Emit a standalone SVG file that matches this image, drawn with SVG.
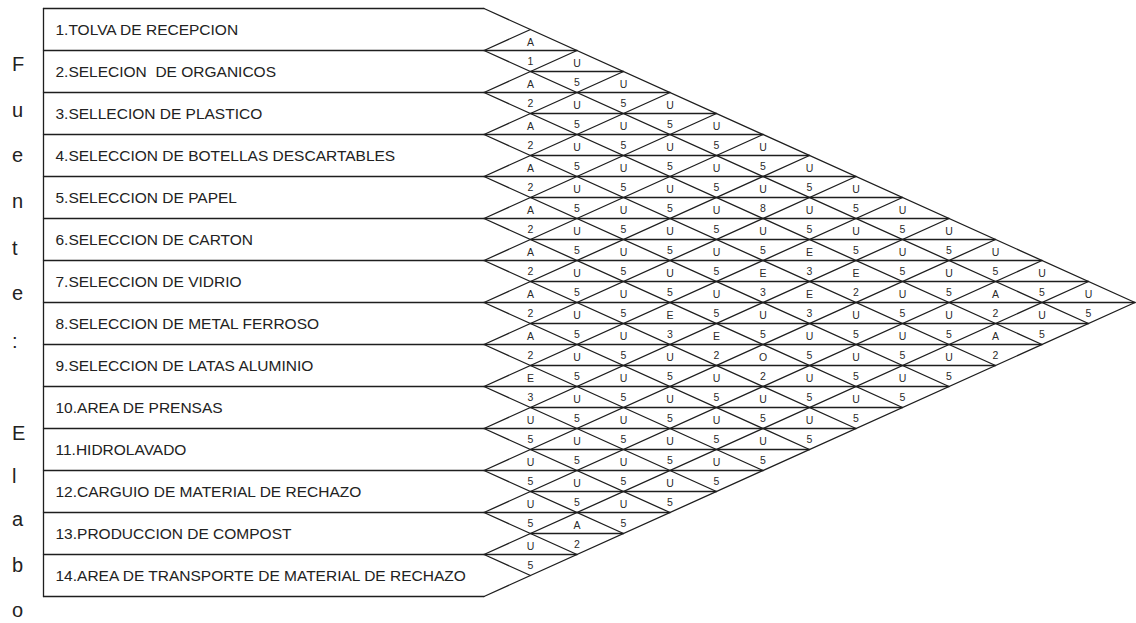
<svg xmlns="http://www.w3.org/2000/svg" width="1136" height="623" viewBox="0 0 1136 623">
<style>
.ln{stroke:#1e1e1e;stroke-width:1.3;fill:none;stroke-linecap:round}
.lbl{font-family:"Liberation Sans",Arial,sans-serif;font-size:15.5px;fill:#222}
.src{font-family:"Liberation Sans",Arial,sans-serif;font-size:20px;fill:#222}
.c text{font-family:"Liberation Sans",Arial,sans-serif;font-size:10.5px;fill:#2a2a2a;text-anchor:middle}
</style>
<rect width="1136" height="623" fill="#fff"/>
<g id="fuente">
<text class="src" x="12" y="70.7">F</text>
<text class="src" x="12" y="117">u</text>
<text class="src" x="12" y="162">e</text>
<text class="src" x="12" y="208">n</text>
<text class="src" x="12" y="254.5">t</text>
<text class="src" x="12" y="300">e</text>
<text class="src" x="12" y="348">:</text>
<text class="src" x="12" y="440">E</text>
<text class="src" x="12" y="483">l</text>
<text class="src" x="12" y="526">a</text>
<text class="src" x="12" y="572">b</text>
<text class="src" x="12" y="617">o</text>
</g>
<g id="connectors" class="ln">
<path d="M43.5 8.5V596.5"/>
<path d="M43.5 8.5H484M43.5 50.5H577M43.5 92.5H670M43.5 134.5H763M43.5 176.5H856M43.5 218.5H949M43.5 260.5H1042M43.5 302.5H1135M43.5 344.5H1042M43.5 386.5H949M43.5 428.5H856M43.5 470.5H763M43.5 512.5H670M43.5 554.5H577M43.5 596.5H484"/>
<path d="M530.5 71.5H623.5M530.5 113.5H716.5M530.5 155.5H809.5M530.5 197.5H902.5M530.5 239.5H995.5M530.5 281.5H1088.5M530.5 323.5H1088.5M530.5 365.5H995.5M530.5 407.5H902.5M530.5 449.5H809.5M530.5 491.5H716.5M530.5 533.5H623.5"/>
<path d="M484 8.5L1135 302.5M484 50.5L1088.5 323.5M484 92.5L1042 344.5M484 134.5L995.5 365.5M484 176.5L949 386.5M484 218.5L902.5 407.5M484 260.5L856 428.5M484 302.5L809.5 449.5M484 344.5L763 470.5M484 386.5L716.5 491.5M484 428.5L670 512.5M484 470.5L623.5 533.5M484 512.5L577 554.5M484 554.5L530.5 575.5"/>
<path d="M484 50.5L530.5 29.5M484 92.5L577 50.5M484 134.5L623.5 71.5M484 176.5L670 92.5M484 218.5L716.5 113.5M484 260.5L763 134.5M484 302.5L809.5 155.5M484 344.5L856 176.5M484 386.5L902.5 197.5M484 428.5L949 218.5M484 470.5L995.5 239.5M484 512.5L1042 260.5M484 554.5L1088.5 281.5M484 596.5L1135 302.5"/>
</g>
<g id="act1"><text class="lbl" x="55.5" y="35">1.TOLVA DE RECEPCION</text></g>
<g id="act2"><text class="lbl" x="55.5" y="77" xml:space="preserve">2.SELECION  DE ORGANICOS</text></g>
<g id="act3"><text class="lbl" x="55.5" y="119">3.SELLECION DE PLASTICO</text></g>
<g id="act4"><text class="lbl" x="55.5" y="161">4.SELECCION DE BOTELLAS DESCARTABLES</text></g>
<g id="act5"><text class="lbl" x="55.5" y="203">5.SELECCION DE PAPEL</text></g>
<g id="act6"><text class="lbl" x="55.5" y="245">6.SELECCION DE CARTON</text></g>
<g id="act7"><text class="lbl" x="55.5" y="287">7.SELECCION DE VIDRIO</text></g>
<g id="act8"><text class="lbl" x="55.5" y="329">8.SELECCION DE METAL FERROSO</text></g>
<g id="act9"><text class="lbl" x="55.5" y="371">9.SELECCION DE LATAS ALUMINIO</text></g>
<g id="act10"><text class="lbl" x="55.5" y="413">10.AREA DE PRENSAS</text></g>
<g id="act11"><text class="lbl" x="55.5" y="455">11.HIDROLAVADO</text></g>
<g id="act12"><text class="lbl" x="55.5" y="497">12.CARGUIO DE MATERIAL DE RECHAZO</text></g>
<g id="act13"><text class="lbl" x="55.5" y="539">13.PRODUCCION DE COMPOST</text></g>
<g id="act14"><text class="lbl" x="55.5" y="581">14.AREA DE TRANSPORTE DE MATERIAL DE RECHAZO</text></g>
<g id="relations" class="c">
<g transform="translate(0,44)"><text x="530.5" y="1.5">A</text></g>
<g transform="translate(0,65)"><text x="530.5" y="0">1</text><text x="577" y="1.5">U</text></g>
<g transform="translate(0,86)"><text x="530.5" y="1.5">A</text><text x="577" y="0">5</text><text x="623.5" y="1.5">U</text></g>
<g transform="translate(0,107)"><text x="530.5" y="0">2</text><text x="577" y="1.5">U</text><text x="623.5" y="0">5</text><text x="670" y="1.5">U</text></g>
<g transform="translate(0,128)"><text x="530.5" y="1.5">A</text><text x="577" y="0">5</text><text x="623.5" y="1.5">U</text><text x="670" y="0">5</text><text x="716.5" y="1.5">U</text></g>
<g transform="translate(0,149)"><text x="530.5" y="0">2</text><text x="577" y="1.5">U</text><text x="623.5" y="0">5</text><text x="670" y="1.5">U</text><text x="716.5" y="0">5</text><text x="763" y="1.5">U</text></g>
<g transform="translate(0,170)"><text x="530.5" y="1.5">A</text><text x="577" y="0">5</text><text x="623.5" y="1.5">U</text><text x="670" y="0">5</text><text x="716.5" y="1.5">U</text><text x="763" y="0">5</text><text x="809.5" y="1.5">U</text></g>
<g transform="translate(0,191)"><text x="530.5" y="0">2</text><text x="577" y="1.5">U</text><text x="623.5" y="0">5</text><text x="670" y="1.5">U</text><text x="716.5" y="0">5</text><text x="763" y="1.5">U</text><text x="809.5" y="0">5</text><text x="856" y="1.5">U</text></g>
<g transform="translate(0,212)"><text x="530.5" y="1.5">A</text><text x="577" y="0">5</text><text x="623.5" y="1.5">U</text><text x="670" y="0">5</text><text x="716.5" y="1.5">U</text><text x="763" y="0">8</text><text x="809.5" y="1.5">U</text><text x="856" y="0">5</text><text x="902.5" y="1.5">U</text></g>
<g transform="translate(0,233)"><text x="530.5" y="0">2</text><text x="577" y="1.5">U</text><text x="623.5" y="0">5</text><text x="670" y="1.5">U</text><text x="716.5" y="0">5</text><text x="763" y="1.5">U</text><text x="809.5" y="0">5</text><text x="856" y="1.5">U</text><text x="902.5" y="0">5</text><text x="949" y="1.5">U</text></g>
<g transform="translate(0,254)"><text x="530.5" y="1.5">A</text><text x="577" y="0">5</text><text x="623.5" y="1.5">U</text><text x="670" y="0">5</text><text x="716.5" y="1.5">U</text><text x="763" y="0">5</text><text x="809.5" y="1.5">E</text><text x="856" y="0">5</text><text x="902.5" y="1.5">U</text><text x="949" y="0">5</text><text x="995.5" y="1.5">U</text></g>
<g transform="translate(0,275)"><text x="530.5" y="0">2</text><text x="577" y="1.5">U</text><text x="623.5" y="0">5</text><text x="670" y="1.5">U</text><text x="716.5" y="0">5</text><text x="763" y="1.5">E</text><text x="809.5" y="0">3</text><text x="856" y="1.5">E</text><text x="902.5" y="0">5</text><text x="949" y="1.5">U</text><text x="995.5" y="0">5</text><text x="1042" y="1.5">U</text></g>
<g transform="translate(0,296)"><text x="530.5" y="1.5">A</text><text x="577" y="0">5</text><text x="623.5" y="1.5">U</text><text x="670" y="0">5</text><text x="716.5" y="1.5">U</text><text x="763" y="0">3</text><text x="809.5" y="1.5">E</text><text x="856" y="0">2</text><text x="902.5" y="1.5">U</text><text x="949" y="0">5</text><text x="995.5" y="1.5">A</text><text x="1042" y="0">5</text><text x="1088.5" y="1.5">U</text></g>
<g transform="translate(0,317)"><text x="530.5" y="0">2</text><text x="577" y="1.5">U</text><text x="623.5" y="0">5</text><text x="670" y="1.5">E</text><text x="716.5" y="0">5</text><text x="763" y="1.5">U</text><text x="809.5" y="0">3</text><text x="856" y="1.5">U</text><text x="902.5" y="0">5</text><text x="949" y="1.5">U</text><text x="995.5" y="0">2</text><text x="1042" y="1.5">U</text><text x="1088.5" y="0">5</text></g>
<g transform="translate(0,338)"><text x="530.5" y="1.5">A</text><text x="577" y="0">5</text><text x="623.5" y="1.5">U</text><text x="670" y="0">3</text><text x="716.5" y="1.5">E</text><text x="763" y="0">5</text><text x="809.5" y="1.5">U</text><text x="856" y="0">5</text><text x="902.5" y="1.5">U</text><text x="949" y="0">5</text><text x="995.5" y="1.5">A</text><text x="1042" y="0">5</text></g>
<g transform="translate(0,359)"><text x="530.5" y="0">2</text><text x="577" y="1.5">U</text><text x="623.5" y="0">5</text><text x="670" y="1.5">U</text><text x="716.5" y="0">2</text><text x="763" y="1.5">O</text><text x="809.5" y="0">5</text><text x="856" y="1.5">U</text><text x="902.5" y="0">5</text><text x="949" y="1.5">U</text><text x="995.5" y="0">2</text></g>
<g transform="translate(0,380)"><text x="530.5" y="1.5">E</text><text x="577" y="0">5</text><text x="623.5" y="1.5">U</text><text x="670" y="0">5</text><text x="716.5" y="1.5">U</text><text x="763" y="0">2</text><text x="809.5" y="1.5">U</text><text x="856" y="0">5</text><text x="902.5" y="1.5">U</text><text x="949" y="0">5</text></g>
<g transform="translate(0,401)"><text x="530.5" y="0">3</text><text x="577" y="1.5">U</text><text x="623.5" y="0">5</text><text x="670" y="1.5">U</text><text x="716.5" y="0">5</text><text x="763" y="1.5">U</text><text x="809.5" y="0">5</text><text x="856" y="1.5">U</text><text x="902.5" y="0">5</text></g>
<g transform="translate(0,422)"><text x="530.5" y="1.5">U</text><text x="577" y="0">5</text><text x="623.5" y="1.5">U</text><text x="670" y="0">5</text><text x="716.5" y="1.5">U</text><text x="763" y="0">5</text><text x="809.5" y="1.5">U</text><text x="856" y="0">5</text></g>
<g transform="translate(0,443)"><text x="530.5" y="0">5</text><text x="577" y="1.5">U</text><text x="623.5" y="0">5</text><text x="670" y="1.5">U</text><text x="716.5" y="0">5</text><text x="763" y="1.5">U</text><text x="809.5" y="0">5</text></g>
<g transform="translate(0,464)"><text x="530.5" y="1.5">U</text><text x="577" y="0">5</text><text x="623.5" y="1.5">U</text><text x="670" y="0">5</text><text x="716.5" y="1.5">U</text><text x="763" y="0">5</text></g>
<g transform="translate(0,485)"><text x="530.5" y="0">5</text><text x="577" y="1.5">U</text><text x="623.5" y="0">5</text><text x="670" y="1.5">U</text><text x="716.5" y="0">5</text></g>
<g transform="translate(0,506)"><text x="530.5" y="1.5">U</text><text x="577" y="0">5</text><text x="623.5" y="1.5">U</text><text x="670" y="0">5</text></g>
<g transform="translate(0,527)"><text x="530.5" y="0">5</text><text x="577" y="1.5">A</text><text x="623.5" y="0">5</text></g>
<g transform="translate(0,548)"><text x="530.5" y="1.5">U</text><text x="577" y="0">2</text></g>
<g transform="translate(0,569)"><text x="530.5" y="0">5</text></g>
</g>
</svg>
